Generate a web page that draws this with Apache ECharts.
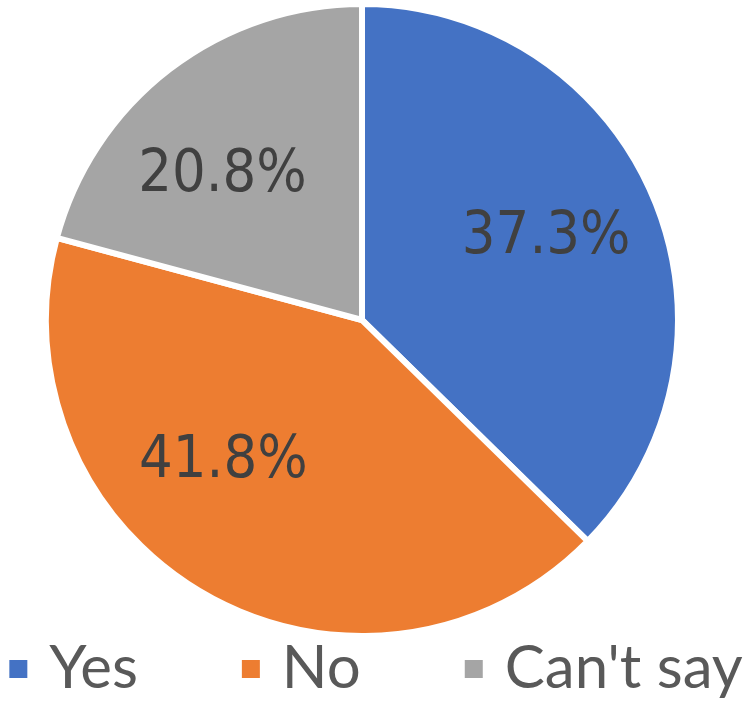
<!DOCTYPE html>
<html>
<head>
<meta charset="utf-8">
<script src="https://cdn.jsdelivr.net/npm/echarts@6/dist/echarts.min.js"></script>
<style>html,body{margin:0;padding:0;background:#fff}#c{width:750px;height:710px}</style>
</head>
<body>
<div id="c"></div>
<script>
var categories = ["Yes", "No", "Can't say"];
var values = [37.3, 41.8, 20.8];
var colors = ["#4472C4", "#ED7D31", "#A5A5A5"];
var labelNudge = [[-3, -4], [-38, -35], [-16, 17]];
var LABEL_FONT = "'Liberation Sans Narrow', 'DejaVu Sans Condensed', sans-serif";
var LEGEND_FONT = "Lato, 'Noto Sans', sans-serif";

var chart = echarts.init(document.getElementById('c'), null, {renderer: 'canvas'});
var pieData = categories.map(function (c, i) {
  return {name: c, value: values[i], itemStyle: {color: colors[i]}};
});
chart.setOption({
  animation: false,
  legend: {
    bottom: 6,
    left: 'center',
    itemWidth: 20,
    itemHeight: 20,
    itemGap: 102,
    icon: 'rect',
    textStyle: {fontSize: 60, color: '#595959', fontFamily: LEGEND_FONT, padding: [0, 0, 0, 16]},
    data: categories
  },
  series: [{
    type: 'pie',
    center: [362, 320],
    radius: [0, 316],
    startAngle: 90,
    clockwise: true,
    itemStyle: {borderColor: '#fff', borderWidth: 6},
    label: {show: false},
    labelLine: {show: false},
    emphasis: {disabled: true},
    data: pieData
  }, {
    type: 'pie',
    center: [362, 320],
    radius: [84, 316],
    startAngle: 90,
    clockwise: true,
    silent: true,
    legendHoverLink: false,
    itemStyle: {color: 'transparent', borderWidth: 0},
    label: {
      show: true,
      position: 'inside',
      formatter: function (p) { return p.value.toFixed(1) + '%'; },
      fontSize: 59,
      color: '#404040',
      fontFamily: LABEL_FONT
    },
    labelLine: {show: false},
    emphasis: {disabled: true},
    data: categories.map(function (c, i) {
      return {name: c + ' ', value: values[i], label: {offset: labelNudge[i]}};
    })
  }]
});
</script>
</body>
</html>
